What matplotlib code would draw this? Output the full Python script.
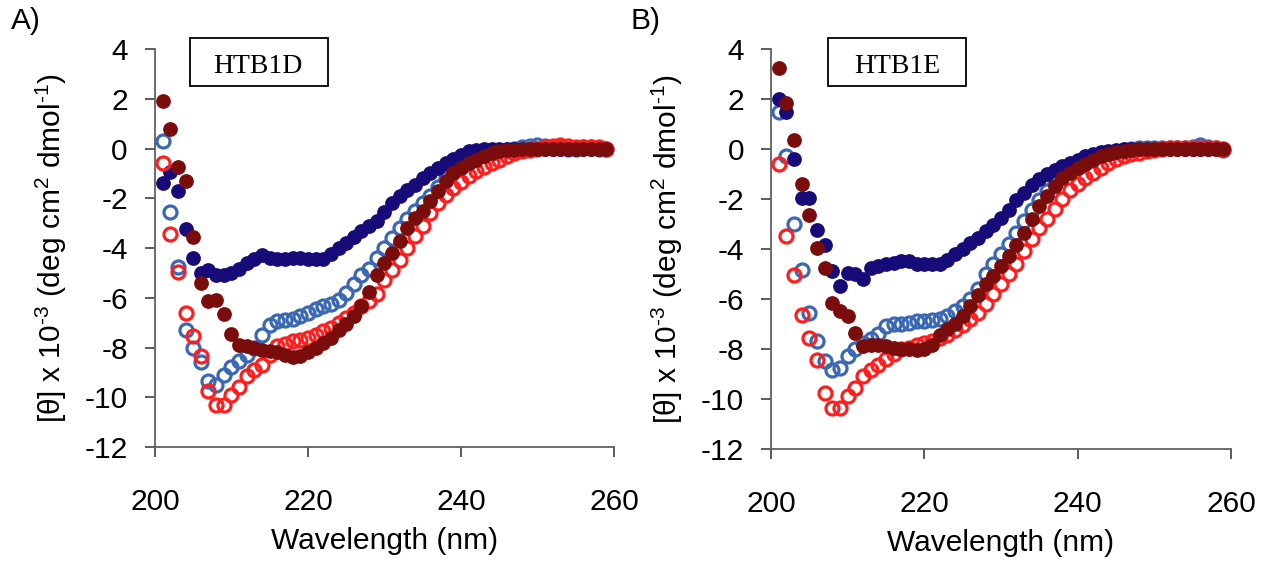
"""
CD spectra of HTB1D / HTB1E (panels A and B)
"""
import matplotlib.pyplot as plt
from matplotlib.patches import Rectangle

plt.rcParams['font.family'] = ['Liberation Sans', 'DejaVu Sans']
plt.rcParams['mathtext.fontset'] = 'custom'
plt.rcParams['mathtext.rm'] = 'Liberation Sans'
plt.rcParams['axes.unicode_minus'] = False

# wavelength (nm), one point per nm
wl = list(range(201, 260))

# ---- panel A: HTB1D ----
d_navy = [-1.4, -0.95, -1.7, -3.25, -4.4, -5.0, -4.9, -5.1, -5.1, -5.0,
          -4.85, -4.6, -4.45, -4.3, -4.4, -4.45, -4.45, -4.4, -4.4, -4.45,
          -4.45, -4.45, -4.25, -4.0, -3.8, -3.55, -3.3, -3.1, -2.9, -2.55,
          -2.2, -1.9, -1.65, -1.45, -1.2, -1.0, -0.8, -0.6, -0.42, -0.25,
          -0.12, -0.06, -0.03, 0.0, 0.0, 0.0, 0.0, 0.0, 0.0, 0.0,
          0.0, 0.0, 0.0, 0.0, 0.0, 0.0, 0.0, 0.0, 0.0]
d_blue = [0.3, -2.55, -4.75, -7.3, -8.0, -8.6, -9.35, -9.5, -9.1, -8.8,
          -8.55, -8.3, -8.0, -7.5, -7.1, -6.95, -6.9, -6.85, -6.75, -6.6,
          -6.45, -6.35, -6.25, -6.1, -5.8, -5.45, -5.1, -4.85, -4.4, -4.0,
          -3.6, -3.2, -2.85, -2.5, -2.2, -1.9, -1.55, -1.2, -0.95, -0.75,
          -0.55, -0.4, -0.28, -0.18, -0.1, -0.05, 0.0, 0.05, 0.1, 0.15,
          0.1, 0.05, 0.05, 0.0, 0.0, 0.05, 0.05, 0.0, 0.0]
d_red = [-0.6, -3.45, -4.95, -6.6, -7.55, -8.35, -9.75, -10.3, -10.3, -9.9,
         -9.6, -9.15, -8.9, -8.7, -8.3, -7.95, -7.85, -7.75, -7.7, -7.6,
         -7.5, -7.35, -7.2, -7.0, -6.8, -6.6, -6.35, -6.15, -5.85, -5.3,
         -4.9, -4.5, -4.0, -3.5, -3.1, -2.6, -2.2, -1.85, -1.6, -1.35,
         -1.1, -0.9, -0.75, -0.6, -0.45, -0.3, -0.2, -0.12, -0.05, 0.0,
         0.05, 0.1, 0.15, 0.1, 0.05, 0.05, 0.05, 0.05, 0.0]
d_dred = [1.9, 0.8, -0.75, -1.3, -3.55, -5.4, -6.15, -6.1, -6.65, -7.45,
          -7.9, -7.95, -8.0, -8.1, -8.15, -8.2, -8.3, -8.4, -8.35, -8.2,
          -8.0, -7.8, -7.6, -7.3, -7.05, -6.75, -6.35, -5.75, -5.1, -4.6,
          -4.2, -3.7, -3.2, -2.8, -2.5, -2.1, -1.7, -1.3, -1.0, -0.8,
          -0.6, -0.45, -0.3, -0.2, -0.12, -0.08, -0.05, -0.03, -0.02, 0.0,
          0.0, 0.0, 0.0, 0.0, 0.0, 0.0, 0.0, 0.0, 0.0]

# ---- panel B: HTB1E ----
e_navy = [2.0, 1.5, -0.4, -1.95, -1.95, -3.25, -3.85, -4.9, -5.5, -4.95,
          -5.0, -5.2, -4.75, -4.7, -4.6, -4.55, -4.5, -4.5, -4.6, -4.6,
          -4.6, -4.6, -4.45, -4.2, -4.0, -3.75, -3.55, -3.3, -3.05, -2.75,
          -2.45, -2.05, -1.75, -1.45, -1.2, -1.0, -0.85, -0.7, -0.55, -0.45,
          -0.3, -0.2, -0.12, -0.08, -0.05, 0.0, 0.0, 0.0, 0.0, 0.0,
          0.0, 0.0, 0.0, 0.0, 0.0, 0.0, 0.0, 0.0, 0.0]
e_blue = [1.5, -0.3, -3.0, -4.85, -6.55, -7.7, -8.5, -8.85, -8.75, -8.3,
          -8.0, -7.75, -7.6, -7.4, -7.1, -7.0, -7.0, -6.95, -6.9, -6.9,
          -6.85, -6.8, -6.7, -6.5, -6.3, -6.0, -5.6, -5.0, -4.6, -4.2,
          -3.8, -3.35, -2.9, -2.45, -2.05, -1.7, -1.35, -1.05, -0.85, -0.65,
          -0.5, -0.35, -0.25, -0.15, -0.1, -0.05, 0.0, 0.05, 0.05, 0.05,
          0.05, 0.05, 0.05, 0.05, 0.1, 0.15, 0.1, 0.05, -0.05]
e_red = [-0.6, -3.5, -5.05, -6.65, -7.55, -8.45, -9.75, -10.35, -10.35, -9.9,
         -9.55, -9.1, -8.85, -8.65, -8.4, -8.2, -8.0, -7.95, -7.85, -7.75,
         -7.7, -7.55, -7.45, -7.25, -7.05, -6.8, -6.55, -6.2, -5.8, -5.4,
         -5.0, -4.6, -4.1, -3.6, -3.15, -2.8, -2.4, -2.0, -1.65, -1.4,
         -1.15, -0.95, -0.75, -0.55, -0.4, -0.3, -0.22, -0.15, -0.08, -0.02,
         0.0, 0.03, 0.05, 0.05, 0.05, 0.05, 0.05, 0.05, 0.0]
e_dred = [3.25, 1.85, 0.35, -1.4, -2.65, -3.95, -4.75, -6.15, -6.5, -6.7,
          -7.35, -7.9, -7.85, -7.85, -7.9, -7.95, -8.0, -8.0, -8.05, -8.0,
          -7.85, -7.45, -7.2, -7.0, -6.7, -6.3, -5.85, -5.4, -5.1, -4.7,
          -4.3, -3.85, -3.35, -2.8, -2.3, -1.9, -1.5, -1.15, -0.95, -0.75,
          -0.6, -0.45, -0.3, -0.2, -0.12, -0.08, -0.05, 0.0, 0.0, 0.0,
          0.0, 0.0, 0.0, 0.0, 0.0, 0.0, 0.0, 0.0, 0.0]

panels = [('A)', 'HTB1D', d_blue, d_navy, d_red, d_dred),
          ('B)', 'HTB1E', e_blue, e_navy, e_red, e_dred)]

NAVY = '#170B7A'
BLUE = '#3A68B4'
RED = '#FF1E1E'
DRED = '#7A0D0B'

fig = plt.figure(figsize=(12.69, 5.62), dpi=100)
axes = [fig.add_axes([0.1221, 0.2046, 0.3617, 0.7082]),
        fig.add_axes([0.6076, 0.2011, 0.3625, 0.7117])]
letter_x = [0.009, 0.497]
box_x = [0.0763, 0.1246]
name_x = [0.2235, 0.274]

for ax, (letter, name, blue, navy, red, dred), lx, bx, nx in zip(
        axes, panels, letter_x, box_x, name_x):
    ax.plot(wl, blue, 'o', mfc='none', mec=BLUE, mew=2.3, ms=9.4, zorder=3)
    ax.plot(wl, navy, 'o', color=NAVY, mec=NAVY, ms=9.6, zorder=4)
    ax.plot(wl, red, 'o', mfc='none', mec=RED, mew=2.3, ms=9.4, zorder=5)
    ax.plot(wl, dred, 'o', color=DRED, mec=DRED, ms=9.6, zorder=6)

    ax.set_xlim(200, 260)
    ax.set_ylim(-12, 4)
    ax.set_xticks([200, 220, 240, 260])
    ax.set_yticks(range(-12, 5, 2))
    for s in ['top', 'right']:
        ax.spines[s].set_visible(False)
    for s in ['left', 'bottom']:
        ax.spines[s].set_color('#606060')
        ax.spines[s].set_linewidth(1.3)
    ax.tick_params(direction='out', length=7.5, width=1.2, color='#404040',
                   labelsize=21.5)
    ax.tick_params(axis='x', pad=22)
    ax.tick_params(axis='y', pad=12)
    ax.set_xlabel('Wavelength (nm)', fontsize=21.5, labelpad=8)
    ax.set_ylabel(r'[θ] x 10$^{\text{-}3}$ (deg cm$^{2}$ dmol$^{\text{-}1}$)',
                  fontsize=21.5, labelpad=11)

    # sample name box
    ax.add_patch(Rectangle((bx, 0.907), 0.3, 0.1216, transform=ax.transAxes,
                           fill=False, ec='black', lw=1.3, clip_on=False))
    ax.text(nx, 0.9555, name, transform=ax.transAxes, ha='center',
            va='center', fontsize=20, family='Liberation Serif', clip_on=False)

    fig.text(lx, 0.963, letter, fontsize=21.5, ha='left', va='center')

plt.savefig('out.png', dpi=100, facecolor='white')
